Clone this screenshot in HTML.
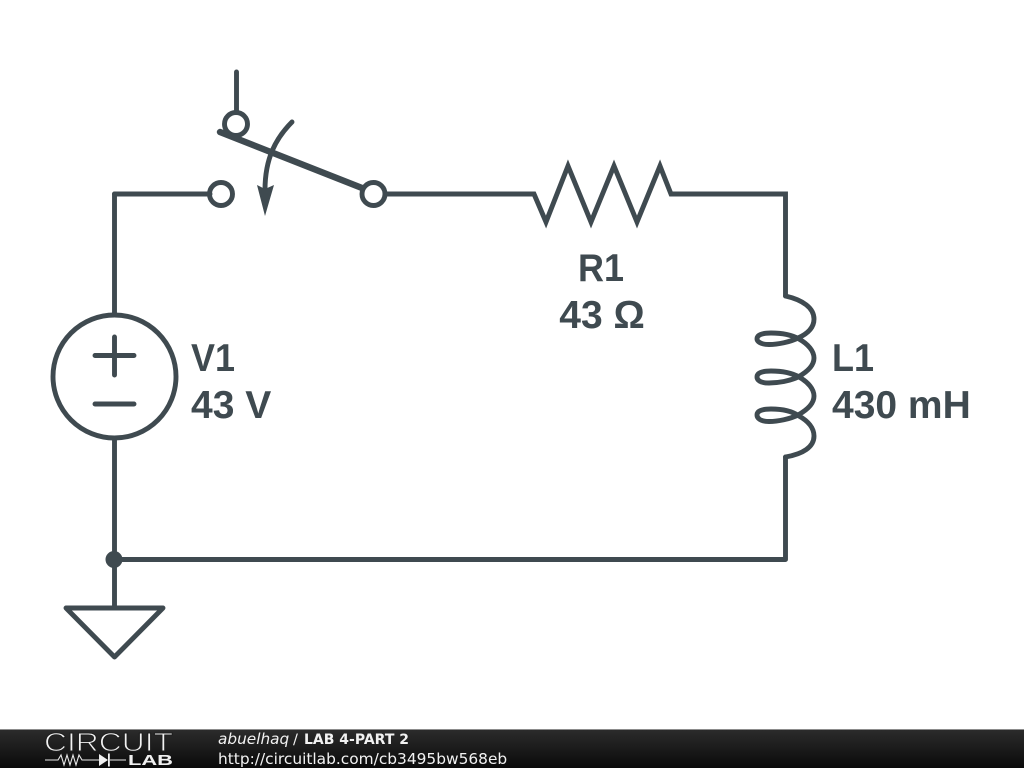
<!DOCTYPE html>
<html>
<head>
<meta charset="utf-8">
<style>
html,body{margin:0;padding:0;background:#fff;width:1024px;height:768px;overflow:hidden}
svg{display:block}
</style>
</head>
<body>
<svg xmlns="http://www.w3.org/2000/svg" width="1024" height="768" viewBox="0 0 1024 768">
<defs>
<linearGradient id="g" x1="0" y1="0" x2="0" y2="1">
<stop offset="0" stop-color="#2c2c2c"/>
<stop offset="1" stop-color="#0a0a0a"/>
</linearGradient>
</defs>
<rect width="1024" height="768" fill="#fff"/>
<g fill="none" stroke="#3f4a50" stroke-width="4.9" stroke-linecap="round" stroke-linejoin="round">
<path d="M114.500,194H210"/>
<path d="M114.500,194V314"/>
<path d="M114.500,438V607"/>
<path d="M114.500,559.500H785.500V457"/>
<path stroke-linejoin="miter" d="M385,194H534L546,222L568,166L591,222L614,166L637,222L660,166L671,194H785.500V296"/>
<circle cx="114.500" cy="376.500" r="61.500"/>
<path d="M95,355.500H134M114.500,337V375M95,404H134"/>
<path d="M236.500,72V112"/>
<circle cx="236" cy="124" r="11.500"/>
<circle cx="221" cy="194" r="11.500"/>
<circle cx="373.500" cy="194" r="11.500"/>
<path d="M220,132L362,188" stroke-width="6.400"/>
<path d="M292,122C276,138 265,158 265,190"/>
<path d="M66,608H163L114.500,657Z"/>
<path d="M785.500,296C803,300 814,308 814,319C814,328 807,334 798,338C790,342 778,344.500 769,344.500C760,344.500 757,341 757,339C757,335 762,333 771,333C782,333 792,335 799,339C808,344 814,351 814,358C814,366 807,372 798,377C790,381 778,383 769,383C760,383 757,380 757,377C757,373 762,371 771,371C782,371 792,373 799,377C808,382 814,389 814,396C814,404 807,410 798,415C790,419 778,421.500 769,421.500C760,421.500 757,418 757,415C757,411 762,409 771,409C782,409 792,411 799,416C808,421 814,428 814,436C814,447 803,454 785.500,457"/>
</g>
<polygon points="257,185 265,189 274,185 265,216" fill="#3f4a50"/>
<circle cx="114" cy="559.500" r="8.500" fill="#3f4a50"/>
<g font-family="'Liberation Sans',sans-serif" font-weight="700" font-size="39" fill="#3f4a50">
<text x="191" y="371" textLength="44" lengthAdjust="spacingAndGlyphs">V1</text>
<text x="191" y="418">43 V</text>
<text x="578" y="281" textLength="46" lengthAdjust="spacingAndGlyphs">R1</text>
<text x="602" y="328" text-anchor="middle">43 Ω</text>
<text x="832" y="371" textLength="42" lengthAdjust="spacingAndGlyphs">L1</text>
<text x="832" y="418">430 mH</text>
</g>
<rect x="0" y="729" width="1024" height="39" fill="url(#g)"/>
<rect x="0" y="729" width="1024" height="1" fill="#8c8c8c"/>
<text x="44" y="751" font-family="'Liberation Sans',sans-serif" font-size="26" textLength="129" lengthAdjust="spacingAndGlyphs" fill="#f2f2f2" stroke="#1f1f1f" stroke-width="1">CIRCUIT</text>
<path d="M45,760H58L61,755L64,765L67,755L70,765L73,755L76,765L79,755L82,760H99M110,760H126" fill="none" stroke="#e8e8e8" stroke-width="1.100"/>
<polygon points="99,754 99,766 108,760" fill="#f0f0f0"/>
<rect x="108" y="753.500" width="1.800" height="13" fill="#f0f0f0"/>
<text x="128" y="765" font-family="'Liberation Sans',sans-serif" font-weight="700" font-size="15" textLength="45" lengthAdjust="spacingAndGlyphs" fill="#f0f0f0">LAB</text>
<g font-family="'DejaVu Sans',sans-serif" fill="#f2f2f2">
<text x="218" y="744" font-size="15.300" font-style="oblique">abuelhaq</text>
<text x="293" y="744" font-size="14.600">/</text>
<text x="304" y="744" font-size="14" font-weight="700" textLength="105" lengthAdjust="spacingAndGlyphs">LAB 4-PART 2</text>
<text x="218" y="764" font-size="15.400">http://circuitlab.com/cb3495bw568eb</text>
</g>
</svg>
</body>
</html>
